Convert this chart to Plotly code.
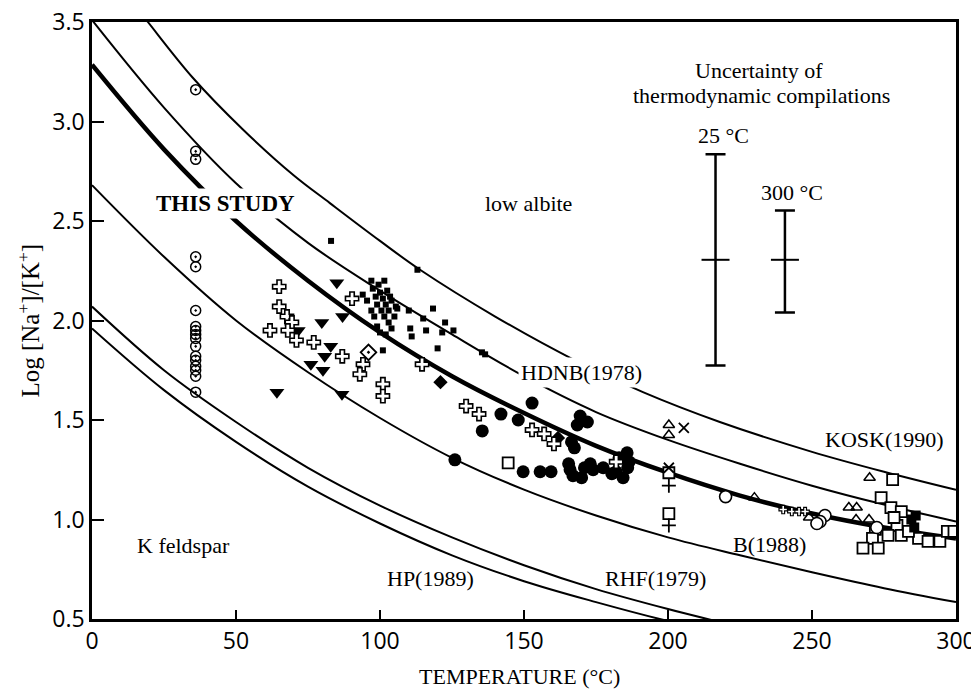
import plotly.graph_objects as go

# ---------------- curves (temperature °C, log [Na+]/[K+]) ----------------
kosk_t = [15, 19.4, 35, 52.4, 70, 82.6, 100, 113.9, 140, 167.7, 191.3, 218, 250, 275, 300]
kosk_v = [3.58, 3.50, 3.22, 2.96, 2.73, 2.59, 2.40, 2.255, 2.02, 1.80, 1.64, 1.49, 1.34, 1.24, 1.149]

hdnb_t = [0, 25, 50, 75, 100, 125, 150, 175, 200, 225, 250, 275, 300]
hdnb_v = [3.51, 3.07, 2.69, 2.39, 2.15, 1.93, 1.72, 1.54, 1.40, 1.28, 1.17, 1.075, 0.99]

study_t = [0, 25, 50, 75, 100, 125, 150, 175, 200, 225, 250, 275, 300]
study_v = [3.285, 2.86, 2.50, 2.20, 1.94, 1.72, 1.535, 1.37, 1.235, 1.12, 1.03, 0.96, 0.905]

b_t = [0, 25, 50, 75, 100, 125, 150, 175, 200, 225, 250, 275, 300]
b_v = [2.68, 2.32, 2.00, 1.74, 1.51, 1.31, 1.15, 1.02, 0.91, 0.82, 0.735, 0.655, 0.585]

rhf_t = [0, 25, 50, 75, 100, 125, 150, 175, 200, 225]
rhf_v = [2.07, 1.75, 1.49, 1.26, 1.07, 0.91, 0.77, 0.65, 0.55, 0.46]

hp_t = [0, 25, 50, 75, 100, 125, 150, 175, 200, 225]
hp_v = [1.96, 1.65, 1.39, 1.165, 0.98, 0.82, 0.69, 0.585, 0.49, 0.41]

# ---------------- data points ----------------
cdot_t = [36] * 17
cdot_v = [3.16, 2.85, 2.81, 2.32, 2.27, 2.05, 1.97, 1.95, 1.93, 1.91, 1.87, 1.82, 1.80, 1.77, 1.75, 1.72, 1.64]

cross_t = [65, 65, 67.7, 69.4, 61.8, 68, 71, 77, 86.9, 90.3, 94.1, 93, 101, 101, 114.6, 129.9, 134.4,
           152.8, 157, 160.4, 182]
cross_v = [2.17, 2.07, 2.02, 1.99, 1.95, 1.95, 1.90, 1.89, 1.82, 2.11, 1.78, 1.73, 1.68, 1.62, 1.78, 1.57, 1.53,
           1.45, 1.43, 1.38, 1.29]

tri_dn_t = [85, 79.8, 87, 71.6, 82.9, 80.8, 76, 80.2, 64.2, 86.8]
tri_dn_v = [2.19, 1.99, 2.02, 1.95, 1.87, 1.82, 1.78, 1.75, 1.64, 1.63]

sq_small_t = [83, 113, 110, 115, 118.4, 122.6, 125.5, 110.5, 111, 116, 121.6, 120, 101, 135.4, 136.5,
              94, 95.5, 97, 97.5, 98.5, 99, 99.5, 100, 100.5, 101, 101.5, 101.5, 102, 102.5, 103, 103,
              104, 104, 105, 105.5, 99, 100, 102, 106, 98, 97, 103.5]
sq_small_v = [2.40, 2.255, 2.05, 2.01, 2.06, 1.99, 1.95, 1.96, 1.92, 1.95, 1.94, 1.86, 1.85, 1.84, 1.83,
              2.13, 2.10, 2.20, 2.16, 2.12, 2.08, 2.18, 2.14, 2.05, 2.11, 2.20, 2.02, 2.08, 2.15, 1.99, 2.05,
              2.10, 1.96, 2.02, 2.07, 1.97, 1.94, 1.93, 2.06, 2.02, 2.05, 2.12]

fcirc_t = [126, 135.5, 142, 148, 152.8, 149.7, 155.6, 159.4, 166.5, 167.5, 169.5, 172, 168.5, 165.5, 166,
           167, 170, 171, 173, 174, 177.5, 180.5, 182, 184.4, 185.8, 186.5, 186, 183]
fcirc_v = [1.30, 1.445, 1.53, 1.50, 1.585, 1.24, 1.24, 1.24, 1.39, 1.36, 1.52, 1.49, 1.475, 1.28, 1.25,
           1.22, 1.21, 1.26, 1.28, 1.25, 1.26, 1.23, 1.24, 1.21, 1.335, 1.29, 1.26, 1.31]

fdiam_t = [121, 161.8]
fdiam_v = [1.69, 1.41]

odiam_t = [96]
odiam_v = [1.84]

osq_t = [144.5, 200.3, 200.3, 278, 274, 277.4, 279.5, 272, 271, 267.7, 273, 276.4, 281, 287, 290.3,
         294.4, 297, 299.3, 281, 278.5, 283.5]
osq_v = [1.285, 1.235, 1.03, 1.20, 1.11, 1.06, 0.97, 0.95, 0.905, 0.856, 0.856, 0.92, 0.92, 0.905, 0.89,
         0.89, 0.94, 0.94, 1.04, 1.01, 0.94]

fsq_t = [284.5, 285.5, 286]
fsq_v = [1.00, 0.96, 1.02]

otri_t = [200.3, 200.3, 270, 262.8, 265.5, 265.3, 269.8, 230, 249]
otri_v = [1.475, 1.425, 1.21, 1.06, 1.06, 1.00, 1.00, 1.11, 1.01]

x_t = [205.5, 200.3]
x_v = [1.46, 1.26]

plus_t = [200.3, 200.3]
plus_v = [1.17, 0.97]

ocirc_t = [220, 254.5, 252.8, 251.7, 272.5]
ocirc_v = [1.115, 1.02, 0.99, 0.98, 0.96]

pin_t = [240, 243, 245.5, 247.6]
pin_v = [1.05, 1.04, 1.04, 1.04]

# uncertainty bars
unc_t = [216.5, 240.6]
unc_mid = [2.305, 2.305]
unc_plus = [0.531, 0.248]
unc_minus = [0.531, 0.265]

SERIF = "Liberation Serif"
SANS = "Open Sans"

fig = go.Figure()


def curve(t, v, w):
    fig.add_trace(go.Scatter(x=t, y=v, mode="lines", line=dict(color="black", width=w, shape="spline", smoothing=1.0),
                             hoverinfo="skip", showlegend=False))


curve(kosk_t, kosk_v, 2)
curve(hdnb_t, hdnb_v, 2)
curve(study_t, study_v, 4.5)
curve(b_t, b_v, 2)
curve(rhf_t, rhf_v, 2)
curve(hp_t, hp_v, 2)


def pts(t, v, symbol, size, color="black", lc="black", lw=1.5):
    fig.add_trace(go.Scatter(x=t, y=v, mode="markers",
                             marker=dict(symbol=symbol, size=size, color=color, line=dict(color=lc, width=lw)),
                             showlegend=False))


pts(cdot_t, cdot_v, "circle-open-dot", 10, color="black", lw=1.5)
pts(sq_small_t, sq_small_v, "square", 6, lw=0)
pts(tri_dn_t, tri_dn_v, "triangle-down", 13, lw=0)
pts(fcirc_t, fcirc_v, "circle", 13, lw=0)
pts(fdiam_t, fdiam_v, "diamond", 11, lw=0)
pts(odiam_t, odiam_v, "diamond-dot", 12, color="white", lw=1.8)
pts(cross_t, cross_v, "cross", 11, color="white", lw=1.6)
pts(osq_t, osq_v, "square", 11, color="white", lw=1.8)
pts(fsq_t, fsq_v, "square", 10, lw=0)
pts(otri_t, otri_v, "triangle-up-open", 10, color="black", lw=1.5)
pts(x_t, x_v, "x-thin-open", 10, color="black", lw=1.8)
pts(plus_t, plus_v, "cross-thin-open", 10, color="black", lw=1.8)
pts(ocirc_t, ocirc_v, "circle", 12, color="white", lw=1.6)
pts(pin_t, pin_v, "cross", 7, color="white", lw=1.2)

# uncertainty bars
fig.add_trace(go.Scatter(
    x=unc_t, y=unc_mid, mode="markers",
    marker=dict(symbol="line-ew", size=20, color="black", line=dict(color="black", width=2)),
    error_y=dict(type="data", symmetric=False, array=unc_plus, arrayminus=unc_minus,
                 color="black", thickness=2.5, width=10),
    showlegend=False))

ann = []


def label(text, x, y, size=22, bold=False, bg=None):
    d = dict(x=x, y=y, xref="x", yref="y", text=("<b>%s</b>" % text) if bold else text, showarrow=False,
             font=dict(family=SERIF, size=size, color="black"), xanchor="center", yanchor="middle")
    if bg:
        d["bgcolor"] = bg
        d["borderpad"] = 2
    ann.append(d)


label("THIS STUDY", 46.5, 2.59, size=23, bold=True, bg="white")
label("low albite", 151.4, 2.586)
label("HDNB(1978)", 170.1, 1.737, bg="white")
label("KOSK(1990)", 275.3, 1.40)
label("B(1988)", 235.4, 0.872)
label("RHF(1979)", 195.5, 0.706)
label("HP(1989)", 117.7, 0.706)
label("K feldspar", 31.6, 0.867)
label("25 °C", 219.1, 2.928)
label("300 °C", 243.0, 2.642)
label("Uncertainty of", 231.5, 3.255)
label("thermodynamic compilations", 232.5, 3.13)

ann.append(dict(x=0.495, y=-0.0955, xref="paper", yref="paper", text="TEMPERATURE (°C)", showarrow=False,
                font=dict(family=SERIF, size=22, color="black"), xanchor="center", yanchor="middle"))
ann.append(dict(x=-0.074, y=0.50, xref="paper", yref="paper", text="Log [Na<sup>+</sup>]/[K<sup>+</sup>]",
                showarrow=False, textangle=-90,
                font=dict(family=SERIF, size=25, color="black"), xanchor="center", yanchor="middle"))

axis_common = dict(showline=True, linewidth=2.5, linecolor="black", mirror=True, showgrid=False, zeroline=False,
                   ticks="inside", tickcolor="black", tickwidth=1.5, automargin=False,
                   ticklabeloverflow="allow",
                   tickfont=dict(family=SANS, size=23, color="black"))

# the page body adds an 8 px offset, so the figure is 8 px smaller on each axis
fig.update_layout(
    width=971, height=683,
    margin=dict(l=84, r=23, t=14, b=72),
    paper_bgcolor="white", plot_bgcolor="white",
    showlegend=False,
    xaxis=dict(range=[0, 300], tickmode="array", tickvals=[0, 50, 100, 150, 200, 250, 300], ticklen=9,
               **axis_common),
    yaxis=dict(range=[0.5, 3.5], tickmode="array", tickvals=[0.5, 1.0, 1.5, 2.0, 2.5, 3.0, 3.5],
               ticktext=["0.5", "1.0", "1.5", "2.0", "2.5", "3.0", "3.5"], ticklen=12, **axis_common),
    annotations=ann,
)

fig.write_html("out.html")
